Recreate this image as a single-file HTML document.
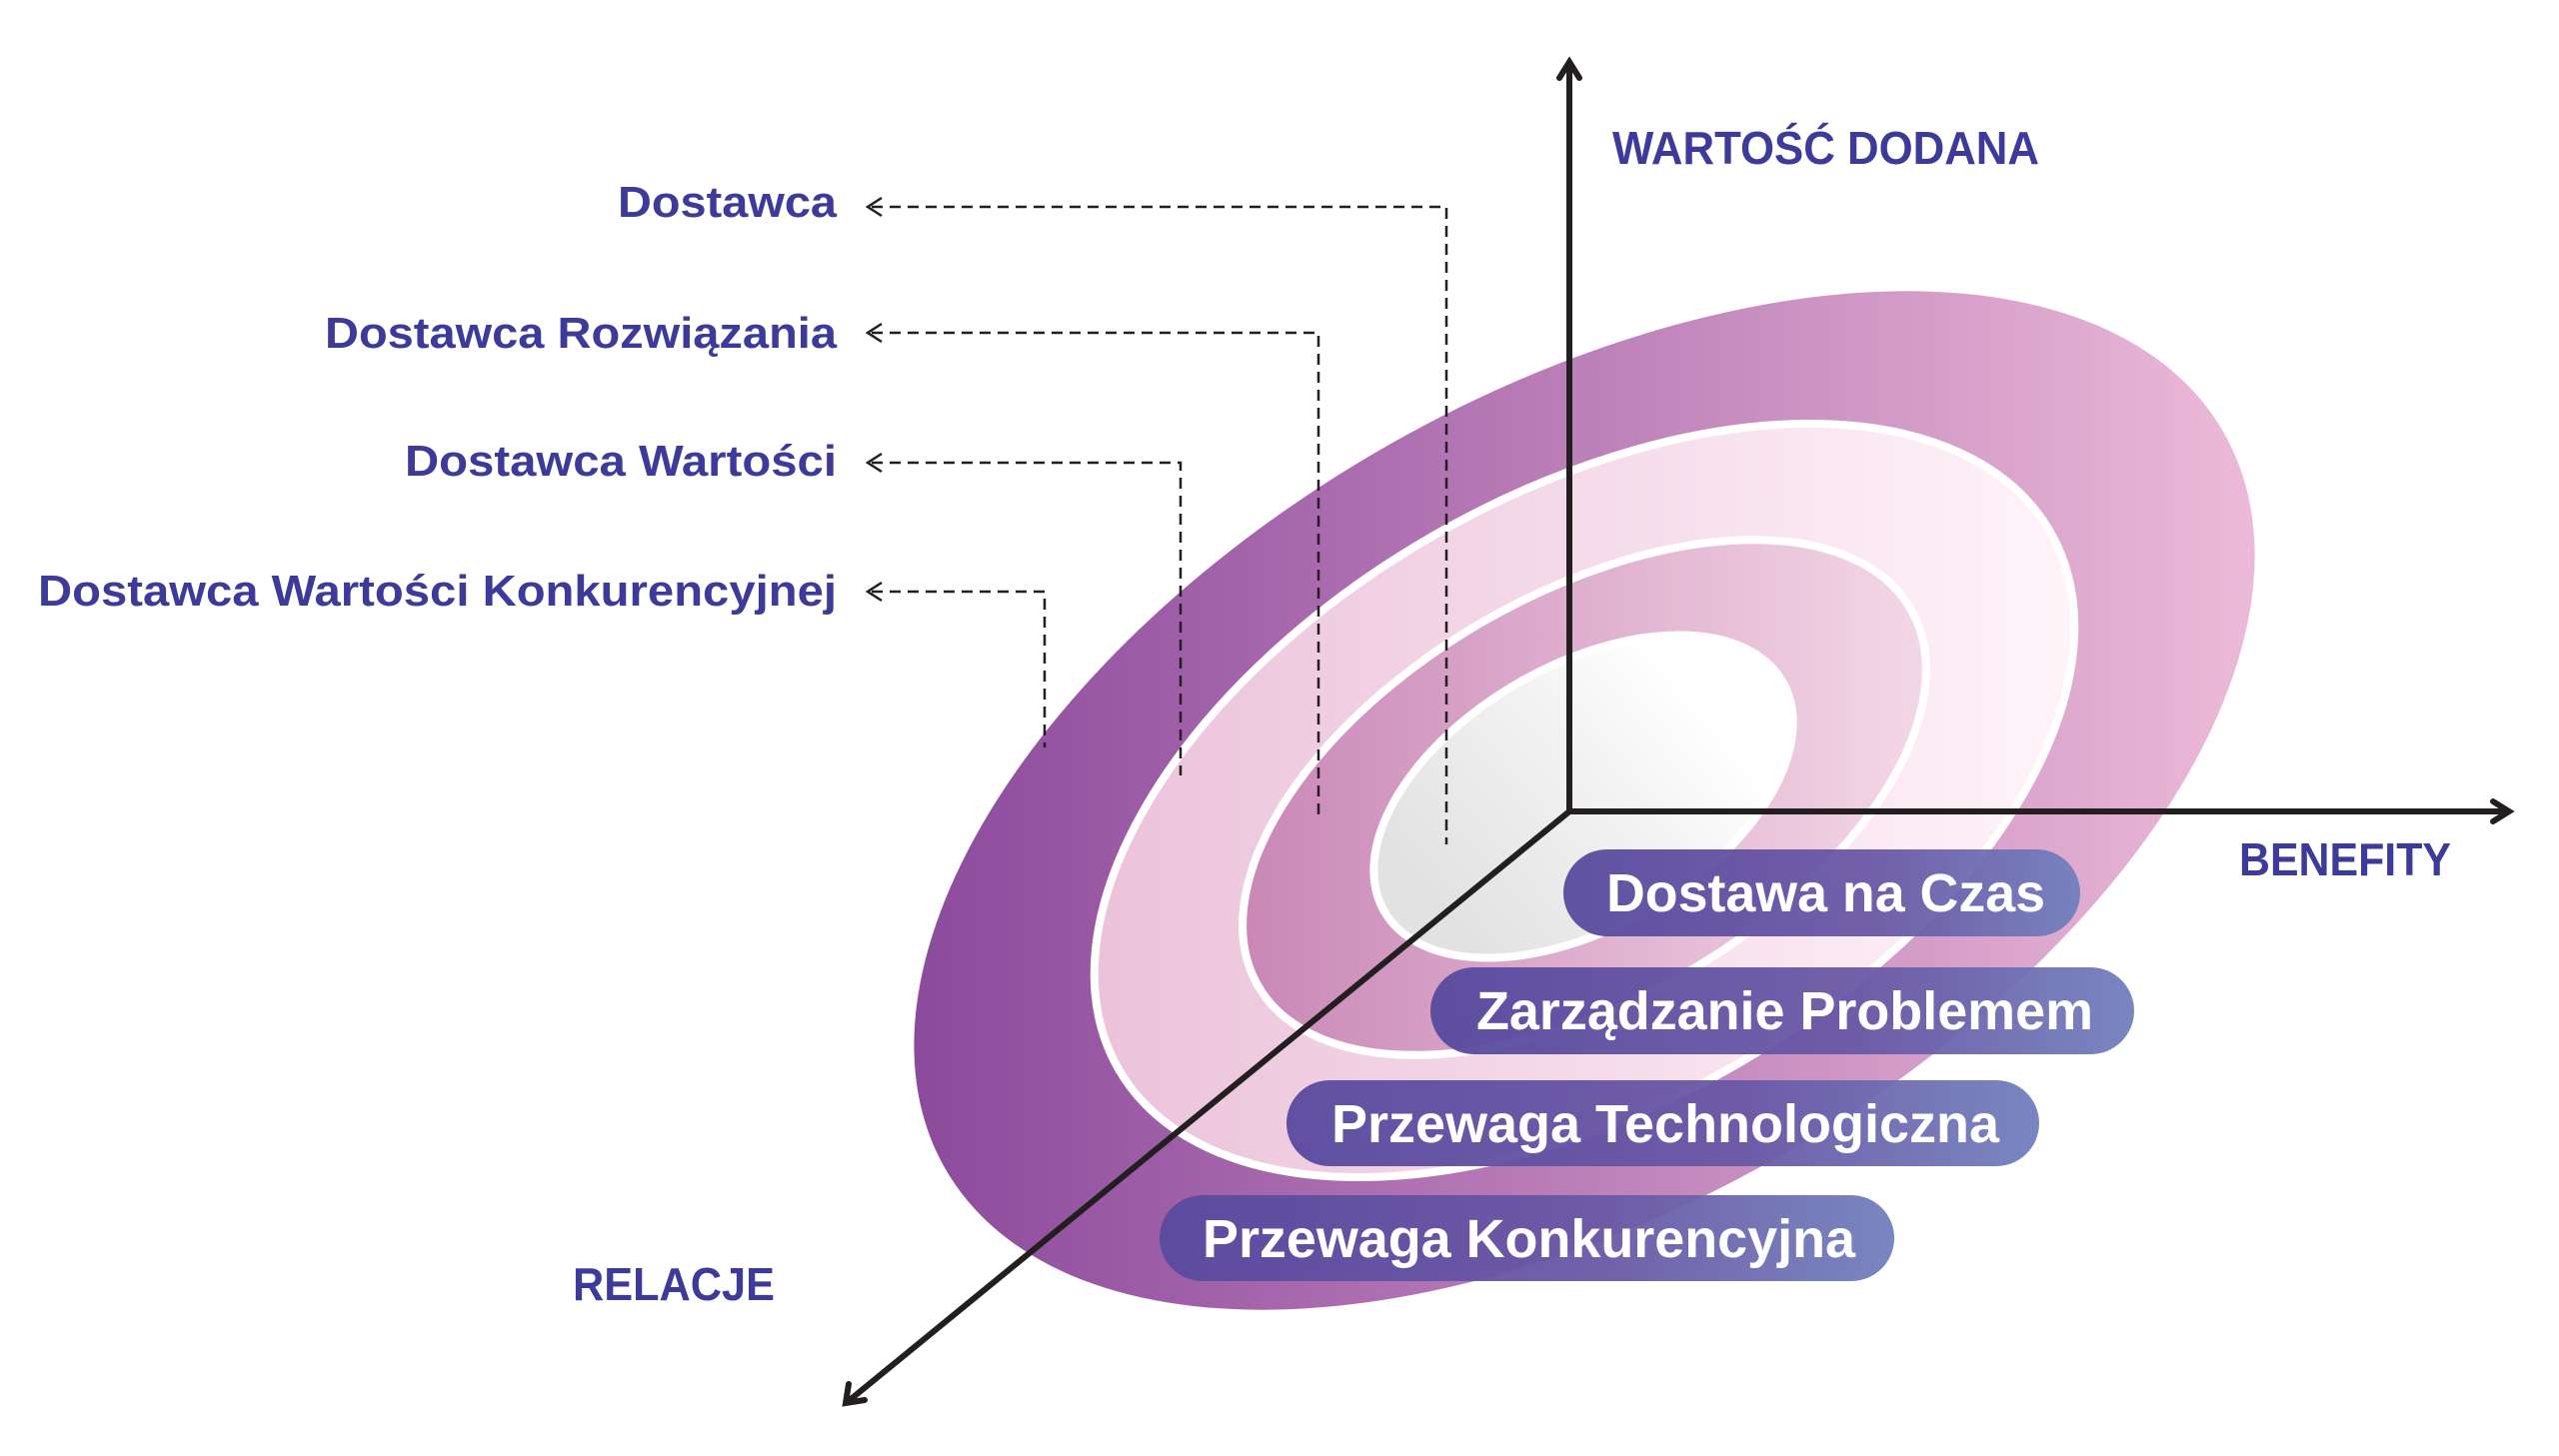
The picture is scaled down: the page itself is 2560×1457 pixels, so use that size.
<!DOCTYPE html>
<html><head><meta charset="utf-8"><style>
html,body{margin:0;padding:0;background:#fff;}
svg{display:block;}
text{font-family:"Liberation Sans",sans-serif;font-weight:bold;}
</style></head><body>
<svg width="2560" height="1457" viewBox="0 0 2560 1457" xmlns="http://www.w3.org/2000/svg">
<defs>
<linearGradient id="g1" gradientUnits="userSpaceOnUse" x1="-669" y1="0" x2="669" y2="0" gradientTransform="rotate(30)">
<stop offset="0" stop-color="#8c4a9c"/><stop offset="0.45" stop-color="#b77ab6"/><stop offset="1" stop-color="#ecbad8"/></linearGradient>
<linearGradient id="g2" gradientUnits="userSpaceOnUse" x1="-491" y1="0" x2="491" y2="0" gradientTransform="rotate(30)">
<stop offset="0" stop-color="#ebc2da"/><stop offset="1" stop-color="#fff4f9"/></linearGradient>
<linearGradient id="g3" gradientUnits="userSpaceOnUse" x1="-343" y1="0" x2="343" y2="0" gradientTransform="rotate(30)">
<stop offset="0" stop-color="#c987b6"/><stop offset="1" stop-color="#f4d8e7"/></linearGradient>
<linearGradient id="g4" gradientUnits="userSpaceOnUse" x1="-180" y1="0" x2="150" y2="0" gradientTransform="rotate(-10)">
<stop offset="0" stop-color="#e2e2e2"/><stop offset="0.6" stop-color="#f2f2f2"/><stop offset="1" stop-color="#ffffff"/></linearGradient>
<linearGradient id="gp" x1="0" y1="0" x2="1" y2="0">
<stop offset="0" stop-color="#584a9e"/><stop offset="0.6" stop-color="#6a58a6"/><stop offset="1" stop-color="#7280bd"/></linearGradient>
</defs>
<g transform="translate(1585,801) rotate(-30)">
<ellipse cx="0" cy="0" rx="738" ry="406" fill="url(#g1)"/>
</g>
<g transform="translate(1585,801) rotate(-30)">
<ellipse cx="0" cy="0" rx="538" ry="305" fill="url(#g2)" stroke="#fff" stroke-width="8"/>
</g>
<g transform="translate(1585,798) rotate(-30)">
<ellipse cx="0" cy="0" rx="377" ry="203" fill="url(#g3)" stroke="#fff" stroke-width="8"/>
</g>
<g transform="translate(1584,797) rotate(-30)">
<ellipse cx="0" cy="0" rx="230" ry="131" fill="url(#g4)" stroke="#fff" stroke-width="8"/>
</g>

<g fill="none" stroke="#231f20" stroke-width="2.5" stroke-dasharray="11 7">
<polyline points="872,207 1447,207 1447,845"/>
<polyline points="872,333 1319,333 1319,816"/>
<polyline points="872,463 1181,463 1181,776"/>
<polyline points="872,592 1045,592 1045,748"/>
</g>
<g fill="none" stroke="#231f20" stroke-width="2.5">
<polyline points="882,198 868,207 882,216"/>
<polyline points="882,324 868,333 882,342"/>
<polyline points="882,454 868,463 882,472"/>
<polyline points="882,583 868,592 882,601"/>
</g>

<g stroke="#231f20" stroke-width="6" fill="none" stroke-linecap="round">
<line x1="1570" y1="812" x2="1570" y2="64"/>
<line x1="1570" y1="812" x2="2508" y2="812"/>
<line x1="1570" y1="812" x2="850" y2="1401"/>
<polyline points="1560,78 1570,62 1580,78"/>
<polyline points="2494,802 2510,812 2494,822"/>
<polyline points="849,1385 846,1404 865,1401"/>
</g>

<g fill="#3d3b99" font-size="46">
<text x="1613" y="164" textLength="427" lengthAdjust="spacingAndGlyphs">WARTOŚĆ DODANA</text>
<text x="2240" y="876" textLength="212" lengthAdjust="spacingAndGlyphs">BENEFITY</text>
<text x="573" y="1301" textLength="202" lengthAdjust="spacingAndGlyphs">RELACJE</text>
</g>
<g fill="#3d3b99" font-size="44">
<text x="618" y="217" textLength="219" lengthAdjust="spacingAndGlyphs">Dostawca</text>
<text x="325" y="348" textLength="512" lengthAdjust="spacingAndGlyphs">Dostawca Rozwiązania</text>
<text x="405" y="476" textLength="432" lengthAdjust="spacingAndGlyphs">Dostawca Wartości</text>
<text x="38" y="606" textLength="799" lengthAdjust="spacingAndGlyphs">Dostawca Wartości Konkurencyjnej</text>
</g>

<g fill="url(#gp)" opacity="0.95">
<rect x="1564" y="850" width="517" height="87" rx="43.5"/>
<rect x="1431" y="968" width="704" height="87" rx="43.5"/>
<rect x="1287" y="1081" width="753" height="86" rx="43"/>
<rect x="1160" y="1196" width="735" height="86" rx="43"/>
</g>
<g fill="#fff" font-size="54">
<text x="1607" y="912" textLength="439" lengthAdjust="spacingAndGlyphs">Dostawa na Czas</text>
<text x="1477" y="1030" textLength="617" lengthAdjust="spacingAndGlyphs">Zarządzanie Problemem</text>
<text x="1332" y="1143" textLength="668" lengthAdjust="spacingAndGlyphs">Przewaga Technologiczna</text>
<text x="1203" y="1258" textLength="653" lengthAdjust="spacingAndGlyphs">Przewaga Konkurencyjna</text>
</g>
</svg>
</body></html>
